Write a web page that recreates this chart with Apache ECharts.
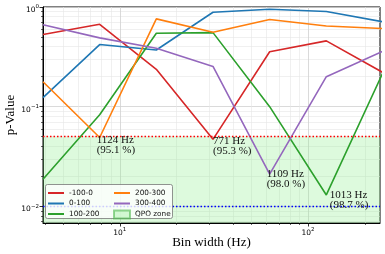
<!DOCTYPE html>
<html><head><meta charset="utf-8">
<script src="https://cdn.jsdelivr.net/npm/echarts@6/dist/echarts.min.js"></script>
<style>html,body{margin:0;padding:0;background:#fff}#c{width:385px;height:254px}</style>
</head><body><div id="c"></div>
<script>
// ---- data ----
const binWidths = [3.90625, 7.8125, 15.625, 31.25, 62.5, 125, 250];
const seriesNames = ['-100-0', '0-100', '100-200', '200-300', '300-400'];
const pM100_0  = [0.53, 0.67, 0.237, 0.047, 0.356, 0.457, 0.22];
const p0_100   = [0.123, 0.42, 0.37, 0.885, 0.95, 0.90, 0.71];
const p100_200 = [0.0187, 0.083, 0.545, 0.553, 0.10, 0.013, 0.22];
const p200_300 = [0.178, 0.049, 0.76, 0.557, 0.75, 0.645, 0.607];
const p300_400 = [0.665, 0.49, 0.385, 0.253, 0.021, 0.20, 0.36];
const seriesValues = [pM100_0, p0_100, p100_200, p200_300, p300_400];
const seriesColors = ['#d62728', '#1f77b4', '#2ca02c', '#ff7f0e', '#9467bd'];
const zoneName = 'QPO zone';
const threshold95 = 0.05;
const threshold99 = 0.01;
// annotations: series name, index of bin, text lines
const annotSeries = ['200-300', '-100-0', '300-400', '100-200'];
const annotIndex  = [1, 3, 4, 5];
const annotFreq   = ['1124 Hz', '771 Hz', '1109 Hz', '1013 Hz'];
const annotConf   = ['(95.1 %)', '(95.3 %)', '(98.0 %)', '(98.7 %)'];
// axes
const X_MIN = 3.90625, X_MAX = 241;
const Y_MIN = 0.0068, Y_MAX = 1;
const xMajorTicks = [10, 100];
const xMinorTicks = [4, 5, 6, 7, 8, 9, 20, 30, 40, 50, 60, 70, 80, 90, 200];
const yMajorTicks = [0.01, 0.1, 1];
const yMinorTicks = [0.007, 0.008, 0.009, 0.02, 0.03, 0.04, 0.05, 0.06, 0.07, 0.08, 0.09,
                     0.2, 0.3, 0.4, 0.5, 0.6, 0.7, 0.8, 0.9];
const xTitle = 'Bin width (Hz)';
const yTitle = 'p-Value';

// ---- chart ----
const SERIF = "'Liberation Serif', 'DejaVu Serif', serif";
const SANS = "'DejaVu Sans', sans-serif";
// pixel offsets of the annotation text from its point (layout only)
const annotLabelOffsets = [[-3, -3], [0, -3.5], [-3, -5.5], [3.5, -5.3]];
function powLabel(v) {
  const e = Math.round(Math.log10(v));
  return '{b|10}{s|' + String(e).replace('-', '\u2212') + '}';
}
const rich = {
  b: { fontSize: 7.5, fontFamily: SANS, color: '#000' },
  s: { fontSize: 5.5, fontFamily: SANS, color: '#000', padding: [0, 0, 6, 0] }
};

const series = seriesNames.map((name, i) => {
  const marks = [];
  annotSeries.forEach((s, k) => {
    if (s === name) {
      const j = annotIndex[k];
      marks.push({
        coord: [binWidths[j], seriesValues[i][j]],
        symbol: 'circle', symbolSize: 0,
        label: { show: true, position: 'inside', align: 'left', verticalAlign: 'top',
                 offset: annotLabelOffsets[k],
                 formatter: annotFreq[k] + '\n' + annotConf[k] }
      });
    }
  });
  return {
    name, type: 'line', xAxisIndex: 0, yAxisIndex: 0,
    data: binWidths.map((x, j) => [x, seriesValues[i][j]]),
    symbol: 'none', showSymbol: false, z: 3,
    lineStyle: { width: 1.6, color: seriesColors[i] },
    itemStyle: { color: seriesColors[i] },
    markPoint: marks.length ? {
      silent: true, animation: false, data: marks,
      label: { fontFamily: SERIF, fontSize: 11, lineHeight: 10.5, color: '#111' }
    } : undefined
  };
});

series.unshift({
  name: zoneName, type: 'scatter', xAxisIndex: 0, yAxisIndex: 0, data: [],
  itemStyle: { color: 'rgba(144,238,144,0.45)', borderColor: 'rgba(70,180,70,0.7)', borderWidth: 1 },
  z: 1,
  markArea: {
    silent: true, animation: false,
    itemStyle: { color: 'rgba(144,238,144,0.3)' },
    data: [[{ coord: [X_MIN, Y_MIN] }, { coord: [X_MAX, threshold95] }]]
  },
  markLine: {
    silent: true, animation: false, symbol: 'none', label: { show: false },
    data: [
      { yAxis: threshold95, lineStyle: { color: '#ff0000', type: [1.5, 2], width: 1.3 } },
      { yAxis: threshold99, lineStyle: { color: '#0000ff', type: [1.5, 2], width: 1.3 } }
    ]
  }
});

function majorAxis(dim, ticks, minV, maxV) {
  return {
    type: 'log', logBase: 10, min: minV, max: maxV,
    position: dim === 'x' ? 'bottom' : 'left',
    name: dim === 'x' ? xTitle : yTitle,
    nameLocation: 'middle', nameGap: dim === 'x' ? 13 : 26, nameMoveOverlap: false,
    nameTextStyle: { fontFamily: SERIF, fontSize: 13, color: '#000' },
    axisLine: { show: true, lineStyle: { color: '#000', width: 1 } },
    axisTick: { show: true, inside: false, length: 3.5, customValues: ticks,
                lineStyle: { color: '#000', width: 0.8 } },
    axisLabel: { show: true, customValues: ticks, margin: 4,
                 padding: dim === 'x' ? 0 : [6, 0, 0, 0],
                 formatter: powLabel, rich: rich, hideOverlap: false },
    splitLine: { show: true, lineStyle: { color: '#d0d0d0', width: 0.8 } },
    minorTick: { show: false }, minorSplitLine: { show: false }
  };
}
function minorAxis(dim, ticks, minV, maxV) {
  return {
    type: 'log', logBase: 10, min: minV, max: maxV,
    position: dim === 'x' ? 'bottom' : 'left',
    axisLine: { show: false },
    axisTick: { show: true, inside: false, length: 2, customValues: ticks,
                lineStyle: { color: '#000', width: 0.6 } },
    axisLabel: { show: false },
    splitLine: { show: true, lineStyle: { color: '#e6e6e6', width: 0.6 } }
  };
}

const legendText = { fontFamily: SANS, fontSize: 7.3, color: '#111', lineHeight: 9 };
const lineItem = n => ({ name: n, itemStyle: { opacity: 0 } });
const option = {
  animation: false,
  backgroundColor: '#fff',
  grid: { left: 43, right: 5, top: 7, bottom: 31, show: true, containLabel: false,
          outerBoundsMode: 'none',
          borderColor: '#000', borderWidth: 1, backgroundColor: 'transparent' },
  xAxis: [majorAxis('x', xMajorTicks, X_MIN, X_MAX), minorAxis('x', xMinorTicks, X_MIN, X_MAX)],
  yAxis: [majorAxis('y', yMajorTicks, Y_MIN, Y_MAX), minorAxis('y', yMinorTicks, Y_MIN, Y_MAX)],
  graphic: [{
    type: 'rect', z: 10, silent: true,
    shape: { x: 45.5, y: 184.5, width: 127, height: 34, r: 2 },
    style: { fill: 'rgba(255,255,255,0.8)', stroke: '#777', lineWidth: 0.8 }
  }],
  legend: [
    { data: seriesNames.slice(0, 3).map(lineItem), orient: 'vertical', left: 47, top: 188.5, z: 11,
      itemWidth: 16, itemHeight: 8, itemGap: 1.5, padding: 0, textStyle: legendText,
      selectedMode: false },
    { data: [lineItem(seriesNames[3]), lineItem(seriesNames[4]),
             { name: zoneName, icon: 'rect' }],
      orient: 'vertical', left: 113, top: 188.5, z: 11,
      itemWidth: 16, itemHeight: 8, itemGap: 1.5, padding: 0, textStyle: legendText,
      selectedMode: false }
  ],
  series
};
const chart = echarts.init(document.getElementById('c'), null, { renderer: 'canvas' });
chart.setOption(option);
</script></body></html>
